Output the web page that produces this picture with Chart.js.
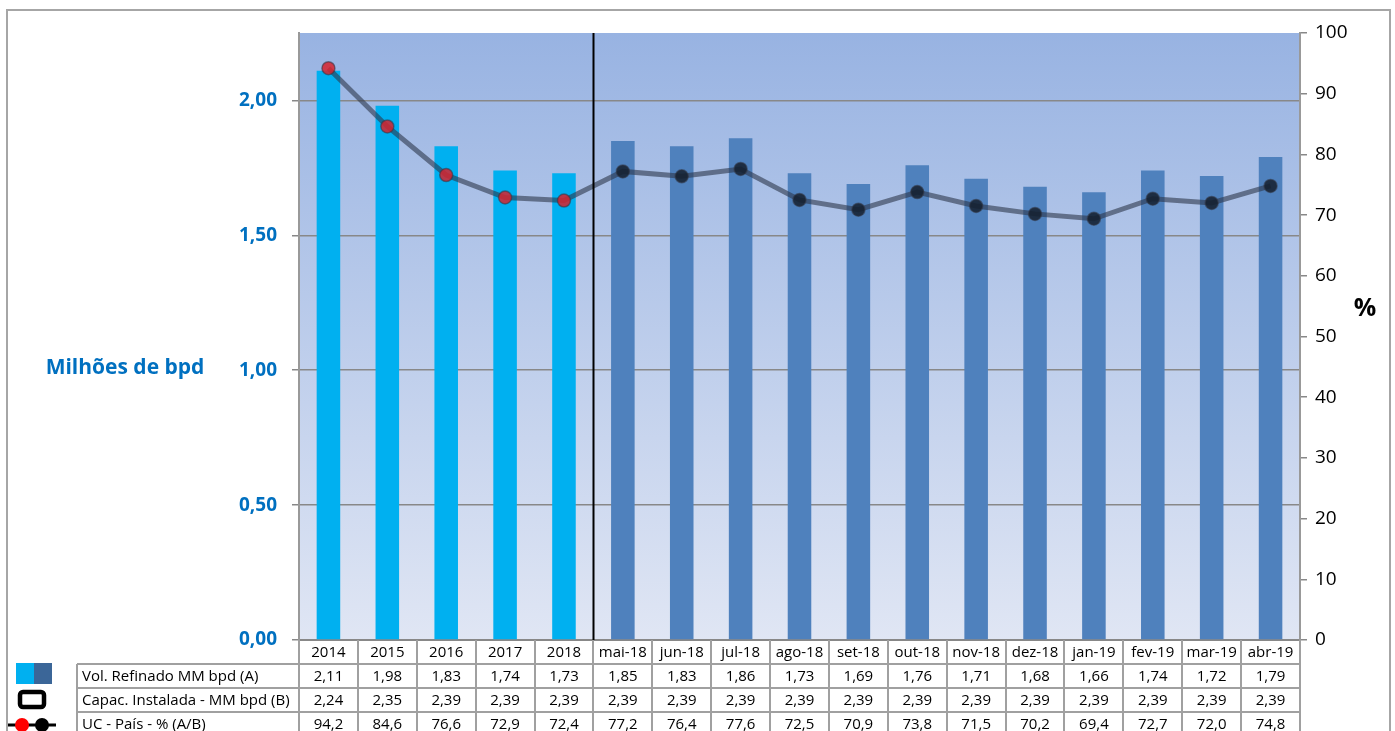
<!DOCTYPE html>
<html><head><meta charset="utf-8">
<script src="https://cdn.jsdelivr.net/npm/chart.js@4/dist/chart.umd.min.js"></script>
<style>html,body{margin:0;padding:0;background:#fff;overflow:hidden}canvas{display:block}</style>
</head><body>
<canvas id="c" width="1395" height="731"></canvas>
<script>
const categories = ['2014','2015','2016','2017','2018','mai-18','jun-18','jul-18','ago-18','set-18','out-18','nov-18','dez-18','jan-19','fev-19','mar-19','abr-19'];
const volRefinado = [2.11,1.98,1.83,1.74,1.73,1.85,1.83,1.86,1.73,1.69,1.76,1.71,1.68,1.66,1.74,1.72,1.79];
const capInstalada = [2.24,2.35,2.39,2.39,2.39,2.39,2.39,2.39,2.39,2.39,2.39,2.39,2.39,2.39,2.39,2.39,2.39];
const ucPais = [94.2,84.6,76.6,72.9,72.4,77.2,76.4,77.6,72.5,70.9,73.8,71.5,70.2,69.4,72.7,72.0,74.8];
const leftAxisTitle = 'Milhões de bpd';
const rightAxisTitle = '%';
const rowLabels = ['Vol. Refinado MM bpd (A)', 'Capac. Instalada - MM bpd (B)', 'UC - País - % (A/B)'];

const FONT = '"Open Sans", "DejaVu Sans", sans-serif';
const isYear = l => /^\d{4}$/.test(l);
const fmt = (v, d) => v.toFixed(d).replace('.', ',');

const tablePlugin = {
  id: 'tablePlugin',
  beforeDraw(chart) {
    const {ctx, chartArea: a} = chart;
    ctx.save();
    const g = ctx.createLinearGradient(0, a.top, 0, a.bottom);
    g.addColorStop(0, '#98B3E2');
    g.addColorStop(1, '#E0E6F4');
    ctx.fillStyle = g;
    ctx.fillRect(a.left, a.top, a.width, a.height);
    ctx.strokeStyle = '#a6a6a6';
    ctx.lineWidth = 2;
    ctx.strokeRect(7, 10, 1383, 760);
    ctx.restore();
  },
  afterDraw(chart) {
    const {ctx, chartArea: a, scales} = chart;
    const xs = scales.x;
    const n = categories.length;
    const w = a.width / n;
    ctx.save();
    let lastYear = -1;
    categories.forEach((c, i) => { if (isYear(c)) lastYear = i; });
    if (lastYear >= 0) {
      const dx = Math.round(xs.getPixelForValue(lastYear) + w / 2) + 0.5;
      ctx.strokeStyle = '#000';
      ctx.lineWidth = 2;
      ctx.beginPath(); ctx.moveTo(dx, a.top); ctx.lineTo(dx, a.bottom); ctx.stroke();
    }
    const rh = 24;
    const rows = [a.bottom, a.bottom + rh, a.bottom + 2 * rh, a.bottom + 3 * rh, a.bottom + 4 * rh];
    const labelLeft = 77;
    ctx.strokeStyle = '#a0a0a0';
    ctx.lineWidth = 2;
    for (let k = 0; k <= n; k++) {
      const x = Math.round(a.left + k * w);
      ctx.beginPath(); ctx.moveTo(x, a.bottom); ctx.lineTo(x, 735); ctx.stroke();
    }
    ctx.beginPath(); ctx.moveTo(labelLeft, rows[1]); ctx.lineTo(labelLeft, 735); ctx.stroke();
    for (let r = 1; r <= 3; r++) {
      const y = Math.round(rows[r]);
      ctx.beginPath(); ctx.moveTo(labelLeft, y); ctx.lineTo(a.right, y); ctx.stroke();
    }
    ctx.fillStyle = '#000';
    ctx.font = '15px ' + FONT;
    ctx.textBaseline = 'middle';
    ctx.textAlign = 'center';
    const series = [volRefinado.map(v => fmt(v, 2)), capInstalada.map(v => fmt(v, 2)), ucPais.map(v => fmt(v, 1))];
    categories.forEach((c, i) => {
      const cx = xs.getPixelForValue(i);
      ctx.fillText(c, cx, rows[0] + rh / 2 + 1);
      series.forEach((s, r) => ctx.fillText(s[i], cx, rows[r + 1] + rh / 2 + 1));
    });
    ctx.textAlign = 'left';
    rowLabels.forEach((l, r) => ctx.fillText(l, 82, rows[r + 1] + rh / 2 + 1));
    ctx.fillStyle = '#00B0F0'; ctx.fillRect(16, 663, 18, 21);
    ctx.fillStyle = '#3B6698'; ctx.fillRect(34, 663, 18, 21);
    ctx.strokeStyle = '#000'; ctx.lineWidth = 4.5;
    ctx.beginPath(); ctx.roundRect(20, 692, 24, 15, 3); ctx.stroke();
    ctx.lineWidth = 3;
    ctx.beginPath(); ctx.moveTo(8, 725); ctx.lineTo(56, 725); ctx.stroke();
    ctx.fillStyle = '#FF0000'; ctx.beginPath(); ctx.arc(22, 725, 7, 0, Math.PI * 2); ctx.fill();
    ctx.fillStyle = '#000'; ctx.beginPath(); ctx.arc(42, 725, 7, 0, Math.PI * 2); ctx.fill();
    ctx.fillStyle = '#0070C0';
    ctx.font = 'bold 21px ' + FONT;
    ctx.textAlign = 'center';
    ctx.fillText(leftAxisTitle, 125, 368);
    ctx.fillStyle = '#000';
    ctx.font = 'bold 25px ' + FONT;
    ctx.fillText(rightAxisTitle, 1365, 309);
    ctx.restore();
  }
};

new Chart(document.getElementById('c'), {
  data: {
    labels: categories,
    datasets: [
      {
        type: 'line', label: 'UC - País - % (A/B)', data: ucPais, yAxisID: 'yR', order: 0,
        borderColor: 'rgba(45,55,75,0.6)', borderWidth: 5, tension: 0,
        pointRadius: 6.5, pointHoverRadius: 6.5,
        pointBackgroundColor: categories.map(c => isYear(c) ? 'rgba(215,35,45,0.85)' : 'rgba(20,30,45,0.85)'),
        pointBorderColor: 'rgba(50,55,70,0.55)', pointBorderWidth: 1.5
      },
      {
        type: 'bar', label: 'Vol. Refinado MM bpd (A)', data: volRefinado, yAxisID: 'yL', order: 1,
        backgroundColor: categories.map(c => isYear(c) ? '#00B0F0' : '#4F81BD'),
        categoryPercentage: 1, barPercentage: 0.4
      }
    ]
  },
  options: {
    responsive: false, animation: false,
    layout: {padding: {top: 33, left: 0, right: 0, bottom: 0}},
    plugins: {legend: {display: false}, tooltip: {enabled: false}},
    scales: {
      x: {
        type: 'category', offset: true,
        ticks: {display: false},
        grid: {display: false},
        border: {display: true, color: '#888', width: 2},
        afterFit: s => { s.height = 91; }
      },
      yL: {
        type: 'linear', position: 'left', min: 0, max: 2.25,
        ticks: {stepSize: 0.5, padding: 15, color: '#0070C0', font: {family: FONT, size: 19, weight: 'bold'},
          callback: v => fmt(v, 2)},
        afterBuildTicks: s => { s.ticks = s.ticks.filter(t => Math.abs(t.value * 2 - Math.round(t.value * 2)) < 1e-9); },
        grid: {color: '#888', lineWidth: 1.5, tickLength: 7},
        border: {display: true, color: '#999', width: 2},
        afterFit: s => { s.width = 299; }
      },
      yR: {
        type: 'linear', position: 'right', min: 0, max: 100,
        ticks: {stepSize: 10, padding: 8, color: '#000', font: {family: FONT, size: 19}},
        grid: {drawOnChartArea: false, color: '#888', tickLength: 7, lineWidth: 1.5},
        border: {display: true, color: '#999', width: 2},
        afterFit: s => { s.width = 95; }
      }
    }
  },
  plugins: [tablePlugin]
});
</script>
</body></html>
